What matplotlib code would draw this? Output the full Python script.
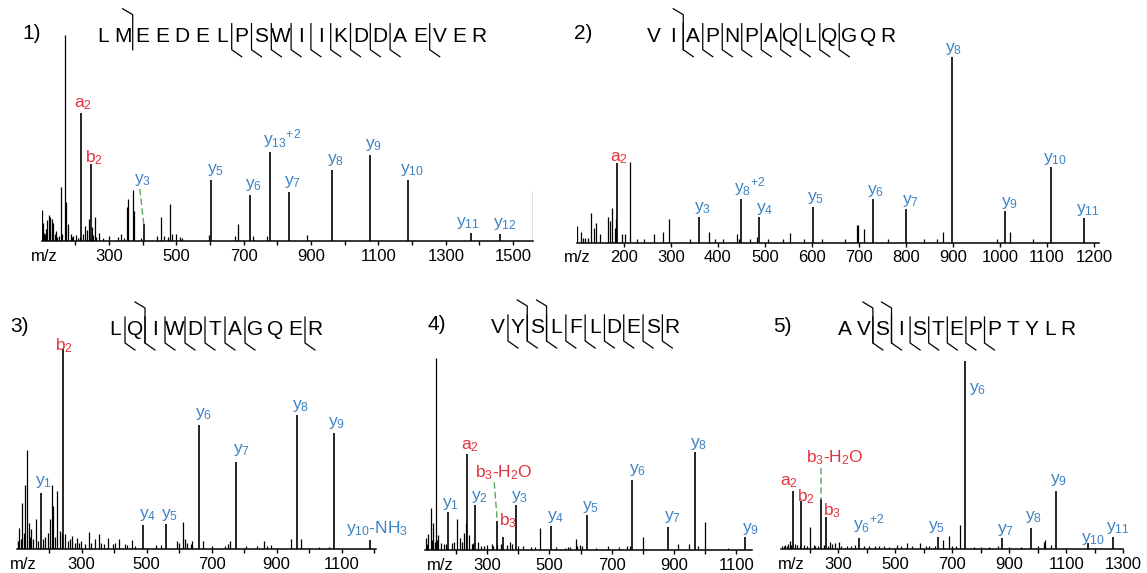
import matplotlib
matplotlib.use('Agg')
import matplotlib.pyplot as plt

plt.rcParams['font.family'] = ['Liberation Sans', 'DejaVu Sans']
plt.rcParams['mathtext.default'] = 'regular'

RED = '#e2323e'
BLUE = '#3d83c4'
GREEN = '#5aa85c'

# ---------------- 1) LMEEDELPSWIIKDDAEVER ----------------
seq1 = 'LMEEDELPSWIIKDDAEVER'
bcut1 = [2]
ycut1 = [13, 12, 11, 10, 9, 8, 7, 6, 5, 3]
mz1 = [100, 104, 106, 109.5, 113, 117, 121, 125, 129.7, 132, 135, 140, 143, 145.6, 150, 156, 161,
       168, 172, 177, 186, 190, 194, 201.7, 207, 213, 223, 230, 234.5, 239, 248, 251, 258, 262,
       270.6, 281, 299, 328, 336, 343, 352, 356, 370, 374, 396, 442, 453, 463, 475, 481, 488, 500,
       511, 518, 596, 673, 684, 728, 768, 889, 1557.8]
int1 = [15.2, 8.8, 4, 3.6, 6, 10, 12.5, 11.7, 10.9, 5, 8.8, 3.6, 5, 2, 2.5, 26.3, 3.6,
        100, 19, 8.1, 3.6, 2, 2.3, 2.8, 1.5, 2, 3.6, 7.1, 5.2, 10.9, 6.8, 3, 11.7, 2,
        3.9, 1.5, 2.6, 2, 3.6, 1.5, 16.5, 20.6, 24.6, 14.6, 1.5, 2.6, 11.7, 2.6, 2, 18.2, 3.6, 3.6,
        2, 1.5, 2.8, 2.3, 8.4, 2.6, 2.6, 2.8, 24.3]
ion_name1 = ['a$_2$', 'b$_2$', 'y$_3$', 'y$_5$', 'y$_6$', 'y$_{13}$$^{+2}$', 'y$_7$', 'y$_8$',
             'y$_9$', 'y$_{10}$', 'y$_{11}$', 'y$_{12}$']
ion_mz1 = [217.14, 245.13, 403.23, 603.31, 718.34, 779.40, 833.36, 961.46, 1074.54, 1187.63,
           1373.71, 1460.74]
ion_int1 = [62, 37.6, 8.1, 29.8, 22.5, 43, 23.7, 34.7, 41.7, 29.5, 4, 3.6]

# ---------------- 2) VIAPNPAQLQGQR ----------------
seq2 = 'VIAPNPAQLQGQR'
bcut2 = [2]
ycut2 = [11, 10, 9, 8, 7, 6, 5, 4, 3]
mz2 = [100, 108, 113, 118, 124, 129.6, 136, 140, 148, 165.5, 169.5, 174, 180, 183, 195, 201.5,
       213.16, 227, 243, 264, 283, 296, 340, 380, 393, 411, 440, 445, 469, 483, 507, 539, 553,
       583, 621, 671, 695, 697, 711, 761, 839, 866, 878, 994, 1022, 1070]
int2 = [9, 6, 2.5, 2.5, 2.5, 15.8, 7.7, 10.4, 4.7, 14, 11.7, 18.5, 8, 13, 4.7, 4.7,
        43.7, 1.8, 1.8, 4.5, 5.6, 12.6, 1.8, 6, 1.8, 2, 4.5, 2.2, 2.2, 2.9, 2.2, 2.2, 5,
        1.8, 2.2, 1.8, 9.5, 9.5, 7.2, 1.8, 1.8, 1.8, 6, 1.8, 5.6, 1.8]
ion_name2 = ['a$_2$', 'y$_3$', 'y$_8$$^{+2}$', 'y$_4$', 'y$_5$', 'y$_6$', 'y$_7$', 'y$_8$',
             'y$_9$', 'y$_{10}$', 'y$_{11}$']
ion_mz2 = [185.16, 360.20, 449.25, 488.26, 601.34, 729.40, 800.44, 897.49, 1011.53, 1108.59,
           1179.62]
ion_int2 = [42.8, 14, 23.4, 14, 19.4, 23.4, 18.2, 100, 17.3, 41, 13.1]

# ---------------- 3) LQIWDTAGQER ----------------
seq3 = 'LQIWDTAGQER'
bcut3 = [2]
ycut3 = [10, 9, 8, 7, 6, 5, 4, 1]
mz3 = [98, 104, 108.6, 113, 117, 121, 127, 131, 137, 140, 144.6, 150, 158, 165, 180, 187, 196,
       201, 208.4, 211.5, 218, 225, 232, 238, 250, 257, 263, 271, 278, 285, 292, 299, 310, 321.6,
       330, 342, 352, 360, 370, 381, 395, 403, 415, 433, 440, 455, 465, 528, 544, 592, 600,
       612.6, 618, 625, 635, 641, 674, 700, 740, 750, 756, 806, 840, 861.6, 870, 882, 945, 974.7,
       1032, 1060]
int3 = [6.3, 4, 10.8, 5, 23.2, 8, 32.3, 49.8, 13.3, 6, 10, 5, 15.3, 4, 5, 6, 8.3,
        15, 32.3, 21.6, 6, 29, 9, 8, 7.5, 4, 5, 6.6, 3, 5.8, 3, 4.2, 2.5, 8.6,
        3, 5, 7.5, 3, 2.5, 5.5, 2.5, 3, 5, 2.8, 2, 4.6, 1.5, 2, 2, 4, 3,
        13.8, 5, 3, 2.5, 4.2, 4.2, 1.5, 1.5, 2.5, 4, 1.7, 1.5, 4.3, 1.5, 2, 5, 5,
        1.3, 1.3]
ion_name3 = ['y$_1$', 'b$_2$', 'y$_4$', 'y$_5$', 'y$_6$', 'y$_7$', 'y$_8$', 'y$_9$',
             'y$_{10}$-NH$_3$']
ion_mz3 = [175.12, 242.15, 489.24, 560.28, 661.33, 776.35, 962.43, 1075.52, 1186.55]
ion_int3 = [28.3, 100, 12.2, 12.7, 62.2, 43.5, 67.2, 58, 4.7]

# ---------------- 4) VYSLFLDESR ----------------
seq4 = 'VYSLFLDESR'
bcut4 = [2, 3]
ycut4 = [9, 8, 7, 6, 5, 4, 3, 2, 1]
mz4 = [103.5, 107, 111, 118.5, 122, 127, 131, 135.6, 140, 143, 150.5, 160, 168, 186, 194, 201.8,
       212, 218, 225, 230.6, 242.5, 250, 255, 271, 280, 290, 298, 314, 320, 330, 343, 362, 373,
       380, 400, 415.6, 440, 455, 471, 520, 549, 560, 565, 584.5, 590, 597, 605, 650, 688, 725,
       749, 760, 800, 912.5, 948, 977, 1001, 1073]
int4 = [6, 3, 8.2, 21.7, 5, 14.3, 4, 100, 5, 7.8, 3.8, 3, 3, 3.5, 4, 16,
        6, 4, 9, 14.3, 7.8, 3, 3.5, 4, 2, 2, 2.6, 3.1, 2, 2.5, 3.1, 2.5, 4.3,
        3, 2, 2.1, 1.5, 1.5, 11.3, 1.5, 0.9, 1.5, 1.5, 5.6, 2, 2.6, 2, 1.2, 2.1, 1.7,
        2.1, 2, 7, 3.1, 3.1, 2.1, 14.8, 0.9]
ion_name4 = ['y$_1$', 'a$_2$', 'y$_2$', 'b$_3$-H$_2$O', 'b$_3$', 'y$_3$', 'y$_4$', 'y$_5$',
             'y$_6$', 'y$_7$', 'y$_8$', 'y$_9$']
ion_mz4 = [175.12, 235.14, 262.15, 332.16, 350.17, 391.19, 506.22, 619.31, 766.37, 879.46,
           966.49, 1129.55]
ion_int4 = [20, 49.9, 23.5, 15.3, 7, 23.5, 12.5, 18.3, 36.5, 12.2, 51, 6.6]

# ---------------- 5) AVSISTEPPTYLR ----------------
seq5 = 'AVSISTEPPTYLR'
bcut5 = [2, 3]
ycut5 = [11, 10, 9, 8, 7, 6, 5]
mz5 = [104, 109, 114.7, 120, 125, 130, 136, 150, 157, 165, 180, 190, 202.4, 214, 220, 230, 250,
       265, 272.5, 280, 290.2, 302, 310, 330, 345, 360, 390, 410, 430, 445, 460, 480, 507, 520,
       541, 560, 588, 610, 620, 640, 668, 688, 700, 715, 729, 775.7, 800, 830, 860, 900, 940,
       1000, 1021.4, 1027, 1045, 1100, 1200]
int5 = [1.5, 1.8, 2.3, 2, 3, 4.6, 2.5, 3, 2.5, 2, 2.5, 2, 11.7, 2.5, 2, 2, 2.5,
        2, 4.1, 3, 3.2, 3.7, 2, 1.5, 2, 2.5, 1.5, 1.5, 1.8, 1.5, 1.8, 1.2, 2.3, 1.5,
        3.5, 2, 3.2, 2, 1.5, 1.5, 4.9, 7, 2, 1.5, 12.9, 1.4, 1, 1, 1.8, 1, 1,
        1.5, 4.1, 5, 2.3, 0.8, 0.8]
ion_name5 = ['a$_2$', 'b$_2$', 'b$_3$-H$_2$O', 'b$_3$', 'y$_6$$^{+2}$', 'y$_5$', 'y$_6$', 'y$_7$',
             'y$_8$', 'y$_9$', 'y$_{10}$', 'y$_{11}$']
ion_mz5 = [143.12, 171.11, 240.13, 258.14, 373.71, 649.37, 746.42, 875.46, 976.51, 1063.54,
           1176.63, 1263.66]
ion_int5 = [30.9, 25.6, 26.5, 17.3, 5.8, 6.4, 100, 5.8, 11.1, 30.9, 3.2, 6.4]

# label placement, pixels: (dx, dy) from the peak top, plus optional dashed leader end
place1 = [(2, 1), (3, -3), (-1, 36), (4, 2), (4, 2), (12, 2), (4, 2), (4, 2), (4, 2), (4, 2),
          (-3, 2), (5, 2)]
lead1 = {2: (-4, 35)}
place2 = [(2, -3), (3, 1), (9, 1), (5, 0), (3, 1), (3, 0), (4, 0), (2, 0), (4, 0), (4, 0), (4, 0)]
lead2 = {}
place3 = [(2, 3), (1, -6), (4, 2), (3, 1), (4, 3), (5, 4), (4, 1), (3, 2), (7, 2)]
lead3 = {}
place4 = [(2, 0), (3, 0), (4, 0), (7, 39), (5, 7), (4, 0), (4, 1), (4, 0), (5, 2), (5, 2), (4, 0),
          (5, 0)]
lead4 = {3: (-3, 38)}
place5 = [(-4, 1), (5, -5), (14, 32), (6, -3), (10, 3), (-1, 2), (12, -36), (3, 0), (3, 3),
          (3, 3), (5, -4), (5, 1)]
lead5 = {2: (0, 31)}

W, H = 1147, 573
fig = plt.figure(figsize=(W / 100, H / 100), dpi=100)


def spectrum(x0, x1, top, base, xlim, ticks, labels, mz, inten, names, imz, iint, place, lead,
             mz_dx):
    ax = fig.add_axes([x0 / W, 1 - base / H, (x1 - x0) / W, (base - top) / H])
    ax.vlines(mz, 0, inten, color='black', lw=0.9)
    ax.vlines(imz, 0, iint, color='black', lw=1.2)
    ax.set_xlim(*xlim)
    ax.set_ylim(0, 100)
    for s in ['left', 'right', 'top']:
        ax.spines[s].set_visible(False)
    ax.spines['bottom'].set_linewidth(1.1)
    ax.set_yticks([])
    ax.set_xticks(ticks)
    ax.set_xticklabels(labels)
    ax.tick_params(axis='x', length=3, width=1, pad=2.5, labelsize=12)
    ax.annotate('m/z', xy=(0, 0), xycoords='axes fraction', xytext=(mz_dx, -7.7),
                textcoords='offset pixels', ha='center', va='top', fontsize=12)
    for i, (name, m, h) in enumerate(zip(names, imz, iint)):
        col = BLUE if name.startswith('y') else RED
        dx, dy = place[i]
        ax.annotate(name, xy=(m, h), xytext=(dx, dy), textcoords='offset pixels',
                    ha='center', va='bottom', color=col, fontsize=12.5, annotation_clip=False)
        if i in lead:
            lx, ly = lead[i]
            ax.annotate('', xy=(m, h), xytext=(lx, ly), textcoords='offset pixels',
                        annotation_clip=False,
                        arrowprops=dict(arrowstyle='-', color=GREEN, lw=1, ls=(0, (4, 3)),
                                        shrinkA=0, shrinkB=0))
    return ax


def odd_labels(ticks):
    return [str(t) if (t // 100) % 2 == 1 else '' for t in ticks]


t1 = list(range(200, 1501, 100))
spectrum(41.7, 533.3, 35, 241, (100, 1560), t1, odd_labels(t1), mz1, int1, ion_name1, ion_mz1,
         ion_int1, place1, lead1, 3)
t2 = list(range(200, 1201, 100))
spectrum(577, 1098.6, 57.3, 242.7, (100, 1210), t2, [str(t) for t in t2], mz2, int2, ion_name2,
         ion_mz2, ion_int2, place2, lead2, 0)
t3 = list(range(200, 1201, 100))
spectrum(16.7, 375.7, 349.3, 549.3, (100, 1205), t3, odd_labels(t3), mz3, int3, ion_name3,
         ion_mz3, ion_int3, place3, lead3, 7)
t4 = list(range(200, 1101, 100))
spectrum(425, 751.7, 358.3, 550, (100, 1150), t4, odd_labels(t4), mz4, int4, ion_name4, ion_mz4,
         ion_int4, place4, lead4, 15)
t5 = list(range(200, 1301, 100))
spectrum(781, 1123.3, 360.6, 549.3, (100, 1300), t5, odd_labels(t5), mz5, int5, ion_name5,
         ion_mz5, ion_int5, place5, lead5, 10)

# peptide sequences with fragment brackets, drawn in figure pixels
ov = fig.add_axes([0, 0, 1, 1], facecolor='none')
ov.set_xlim(0, W)
ov.set_ylim(H, 0)
ov.axis('off')


def sequence(tag, tag_x, seq, x0, dx, base, bcuts, ycuts):
    ov.text(tag_x, base - 3, tag, fontsize=15, ha='left', va='baseline')
    for i, aa in enumerate(seq):
        ov.text(x0 + i * dx, base, aa, fontsize=15, ha='center', va='baseline')
    n = len(seq)
    for k in ycuts:
        x = x0 + (n - k - 0.5) * dx
        ov.plot([x, x, x + 10], [base - 18, base + 8, base + 15], color='black', lw=0.9)
    for k in bcuts:
        x = x0 + (k - 0.5) * dx
        ov.plot([x - 10, x, x], [base - 33, base - 27, base + 8], color='black', lw=0.9)


sequence('1)', 22, seq1, 103, 19.8, 41.7, bcut1, ycut1)
sequence('2)', 574, seq2, 654, 19.5, 41.7, bcut2, ycut2)
sequence('3)', 10, seq3, 115, 20, 335, bcut3, ycut3)
sequence('4)', 427, seq4, 498.3, 19.3, 333, bcut4, ycut4)
sequence('5)', 773, seq5, 845, 18.6, 335, bcut5, ycut5)

fig.savefig('out.png', dpi=100)
